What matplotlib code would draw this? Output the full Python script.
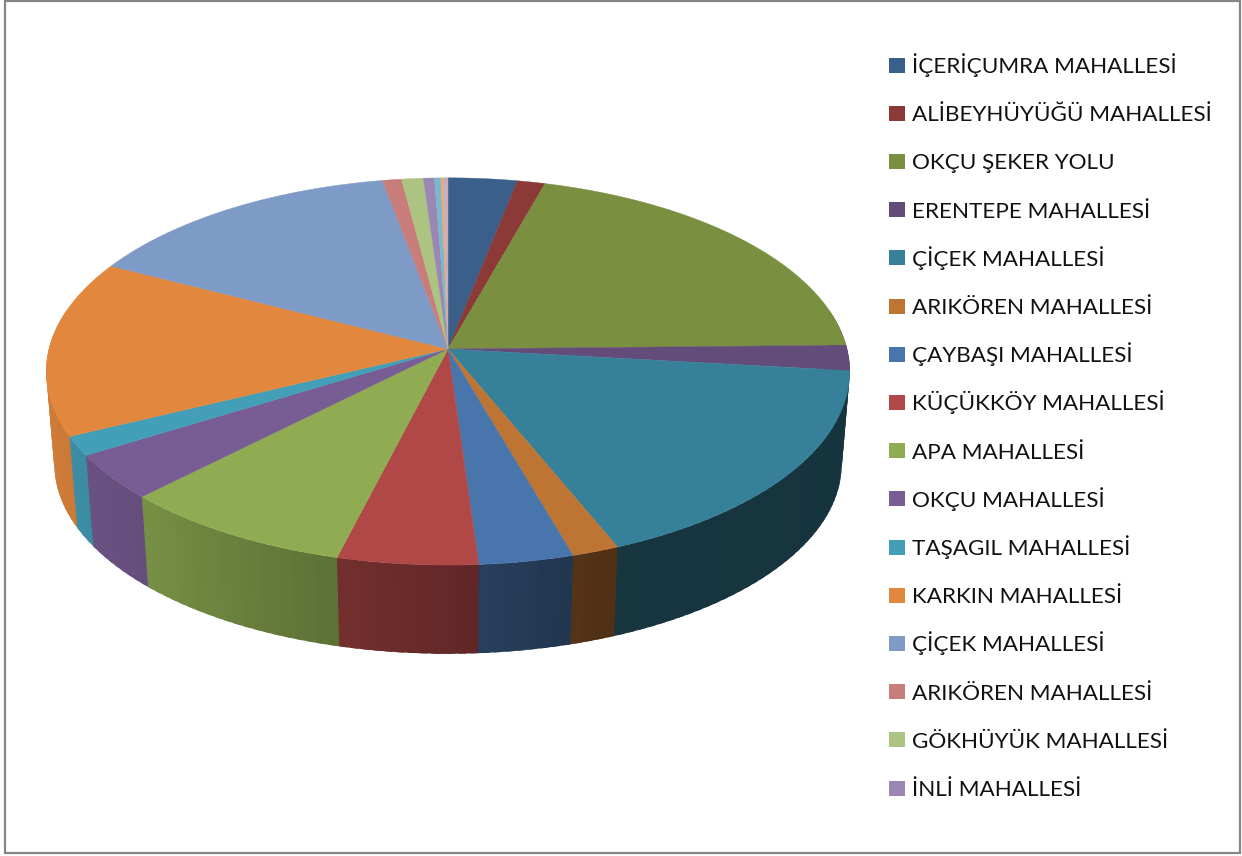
import numpy as np
import matplotlib
matplotlib.use("Agg")
import matplotlib.pyplot as plt
from matplotlib.patches import Rectangle

labels = ["İÇERİÇUMRA MAHALLESİ", "ALİBEYHÜYÜĞÜ MAHALLESİ", "OKÇU ŞEKER YOLU",
          "ERENTEPE MAHALLESİ", "ÇİÇEK MAHALLESİ", "ARIKÖREN MAHALLESİ",
          "ÇAYBAŞI MAHALLESİ", "KÜÇÜKKÖY MAHALLESİ", "APA MAHALLESİ",
          "OKÇU MAHALLESİ", "TAŞAGIL MAHALLESİ", "KARKIN MAHALLESİ",
          "ÇİÇEK MAHALLESİ", "ARIKÖREN MAHALLESİ", "GÖKHÜYÜK MAHALLESİ",
          "İNLİ MAHALLESİ"]

# in percent; the last four slices have no legend entry
values = [3.1, 1.25, 20.3, 2.1, 17.0, 1.7, 3.4, 5.05, 8.45, 3.8,
          1.6, 14.7, 14.5, 0.85, 0.97, 0.5, 0.28, 0.14, 0.09, 0.09]

colors = ["#3A5F8B", "#8C3A38", "#7A8F40", "#644C7A", "#378099", "#BE7432",
          "#4876AC", "#AF4846", "#8FAC52", "#785C94", "#439EB7", "#E2873E",
          "#7D9BC6", "#C87D7A", "#ACC382", "#9B87B4", "#78B9CD", "#F5A56E",
          "#A5B9DC", "#DCA5A5"]

# shading of the rim by angle (clockwise from the top)
shade_angle = [90, 160, 170, 180, 195, 225, 245, 280]
shade_value = [0.40, 0.42, 0.50, 0.57, 0.66, 0.84, 0.90, 0.95]

CX, CY = 448, 349
A, B, K = 399, 191, 0.116
DEPTH, SHRINK = 93, 0.98
OVERLAP = np.radians(1.0)


def top_edge(theta):
    # perspective view of the unit circle
    u, v = np.sin(theta), np.cos(theta)
    w = 1 + K * v
    return CX + A * u / w, CY - B * v / w


def bottom_edge(theta):
    x, y = top_edge(theta)
    return CX + SHRINK * (x - CX), CY + SHRINK * (y - CY) + DEPTH


def shaded(color, deg):
    rgb = np.array(matplotlib.colors.to_rgb(color))
    return tuple(rgb * np.interp(deg, shade_angle, shade_value))


fig = plt.figure(figsize=(12.42, 8.56), dpi=100)
ax = fig.add_axes([0, 0, 1, 1])
ax.set_xlim(0, 1242)
ax.set_ylim(856, 0)
ax.axis("off")

ax.add_patch(Rectangle((5, 1), 1235, 852, fill=False, edgecolor="#868686", linewidth=1.6))

edges = np.radians(np.concatenate([[0], np.cumsum(values)]) / np.sum(values) * 360)

# rim strips, back to front, then the top faces
strips = []
for i, color in enumerate(colors):
    n = max(2, int(np.degrees(edges[i + 1] - edges[i]) / 1.5))
    steps = np.linspace(edges[i], edges[i + 1], n + 1)
    for a0, a1 in zip(steps[:-1], steps[1:]):
        strips.append((a0, a1, color))
strips.sort(key=lambda s: -np.cos((s[0] + s[1]) / 2))

for a0, a1, color in strips:
    mid = (a0 + a1) / 2
    if np.cos(mid) > 0.2:
        continue
    # each strip runs on a little under the next one in front, so no seams show
    if mid < np.pi:
        arc = np.linspace(a0, a1 + OVERLAP, 4)
    else:
        arc = np.linspace(a0 - OVERLAP, a1, 4)
    x0, y0 = top_edge(arc)
    x1, y1 = bottom_edge(arc[::-1])
    c = shaded(color, np.degrees(mid))
    ax.fill(np.r_[x0, x1], np.r_[y0, y1], facecolor=c, edgecolor="none")

for i, color in enumerate(colors):
    arc = np.linspace(edges[i], edges[i + 1], 120)
    x, y = top_edge(arc)
    ax.fill(np.r_[CX, x], np.r_[CY, y], color=color, linewidth=0.3)

for i, label in enumerate(labels):
    y = 65 + i * 48.2
    ax.add_patch(Rectangle((889, y - 7.5), 16, 15, facecolor=colors[i], edgecolor="none"))
    ax.text(911.5, y + 8, label, family="Lato", fontsize=16.2, color="#111111",
            va="baseline", ha="left")

fig.savefig("out.png", dpi=100)
